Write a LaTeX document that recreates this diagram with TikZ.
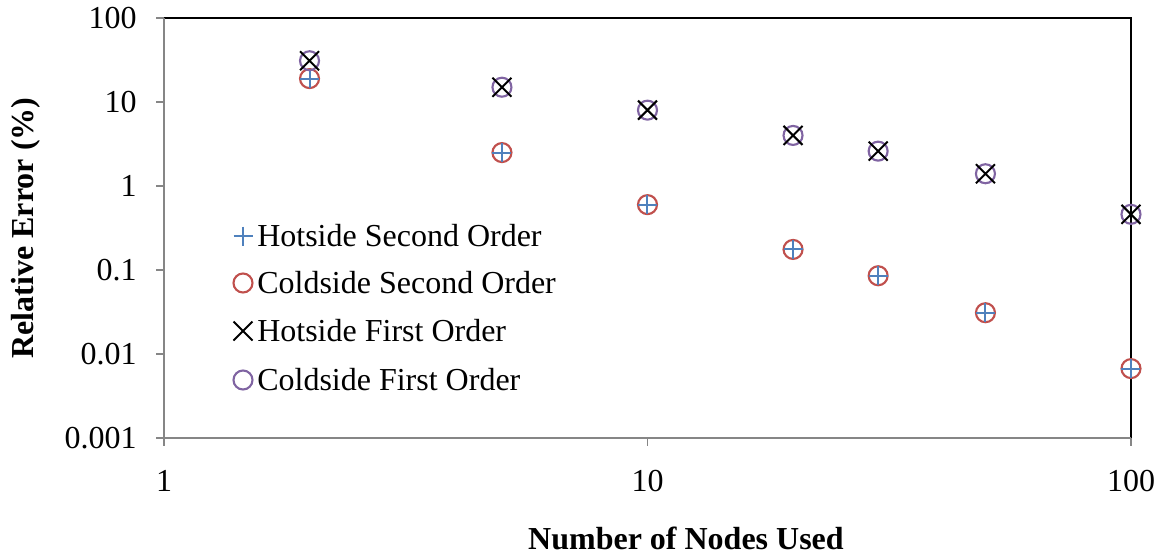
\documentclass[tikz,border=0pt]{standalone}
\usepackage{fontspec}
\setmainfont{Liberation Serif}
\definecolor{axgray}{HTML}{868686}
\definecolor{mkblue}{HTML}{4F81BD}
\definecolor{mkred}{HTML}{C0504D}
\definecolor{mkpurple}{HTML}{8064A2}
\begin{document}
\begin{tikzpicture}[x=0.75pt,y=-0.75pt,
  lbl/.style={font=\fontsize{24}{28}\selectfont, inner sep=0pt},
  ttl/.style={font=\fontsize{24}{28}\selectfont\bfseries, inner sep=0pt},
  graxis/.style={draw=axgray, line width=1.2pt},
  bkaxis/.style={draw=black, line width=1.2pt},
  pics/plusmk/.style={code={\draw[mkblue, line width=1.5pt] (-9.5,0)--(9.5,0) (0,-9.5)--(0,9.5);}},
  pics/crossmk/.style={code={\draw[black, line width=1.5pt] (-9.5,-9.5)--(9.5,9.5) (-9.5,9.5)--(9.5,-9.5);}},
  pics/redcirc/.style={code={\draw[mkred, line width=1.6pt] (0,0) circle[radius=9.5];}},
  pics/purpcirc/.style={code={\draw[mkpurple, line width=1.6pt] (0,0) circle[radius=9.5];}},
]
\useasboundingbox (0,0) rectangle (1158,554);

% plot frame: grey value axes, black top and right edges
\draw[bkaxis] (164,18) -- (1131,18) -- (1131,438);
\draw[graxis] (164,18) -- (164,438) -- (1131,438);

% y ticks and labels (log scale, 84 px per decade)
\foreach \yy/\tx in {18/100, 102/10, 186/1, 270/0.1, 354/0.01, 438/0.001}{
  \draw[graxis] (156,\yy) -- (164,\yy);
  \node[lbl, anchor=east] at (137,\yy) {\tx};
}
% x ticks and labels (log scale, 483.5 px per decade)
\foreach \xx/\tx in {164/1, 647.5/10, 1131/100}{
  \draw[graxis] (\xx,438) -- (\xx,446);
  \node[lbl] at (\xx,481) {\tx};
}

% axis titles
\node[ttl, rotate=90] (ytitle) at (26,228) {Relative Error (\%)};
\node[ttl, anchor=base] (xtitle) at (686,549) {Number of Nodes Used};

% second-order data
\foreach \n/\v in {2/19, 5/2.5, 10/0.6, 20/0.175, 30/0.085, 50/0.031, 100/0.0067}{
  \pgfmathsetmacro\px{164+483.5*log10(\n)}
  \pgfmathsetmacro\py{186-84*log10(\v)}
  \pic at (\px,\py) {redcirc};
  \pic at (\px,\py) {plusmk};
}
% first-order data
\foreach \n/\v in {2/31, 5/15, 10/8, 20/4, 30/2.6, 50/1.4, 100/0.46}{
  \pgfmathsetmacro\px{164+483.5*log10(\n)}
  \pgfmathsetmacro\py{186-84*log10(\v)}
  \pic at (\px,\py) {purpcirc};
  \pic at (\px,\py) {crossmk};
}

% legend
\pic at (243,236) {plusmk};
\node[lbl, anchor=west] (leg1) at (257,236) {Hotside Second Order};
\pic at (243,283) {redcirc};
\node[lbl, anchor=west] (leg2) at (257,283) {Coldside Second Order};
\pic at (243,331) {crossmk};
\node[lbl, anchor=west] (leg3) at (257,331) {Hotside First Order};
\pic at (243,380) {purpcirc};
\node[lbl, anchor=west] (leg4) at (257,380) {Coldside First Order};
\end{tikzpicture}
\end{document}
